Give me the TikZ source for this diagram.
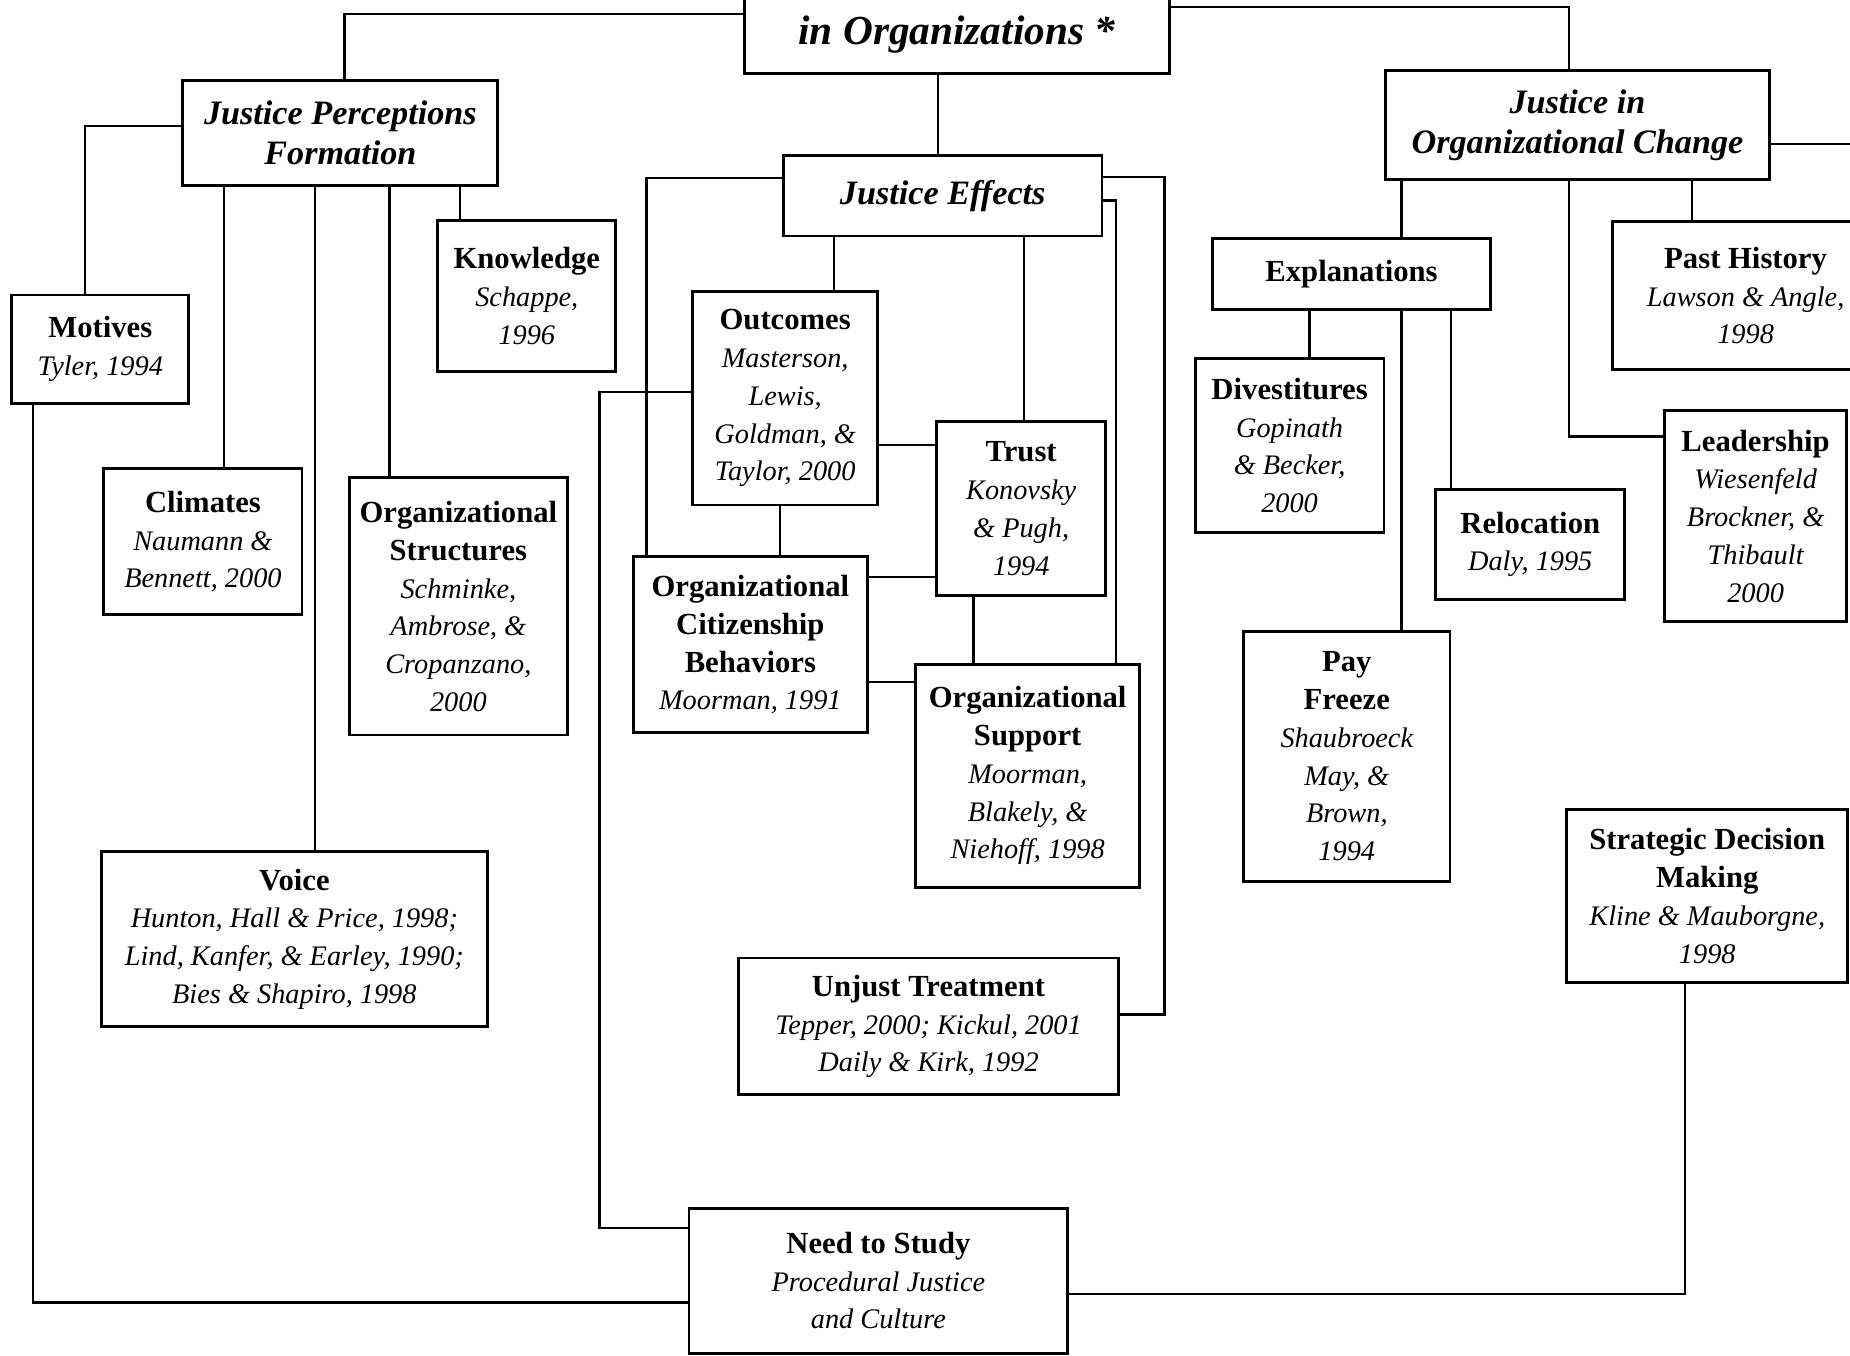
\documentclass[tikz,border=0pt]{standalone}
\usepackage{fontspec}
\setmainfont{Liberation Serif}
% bold upright label line inside a box
\newcommand\boxttl[1]{{\fontsize{13}{16}\selectfont\bfseries\upshape #1}}
\begin{document}
\begin{tikzpicture}[x=0.5pt,y=-0.5pt,
  nbox/.style n args={4}{draw, line width=1.2pt, inner sep=0pt, align=center,
    minimum width={(#3-#1)*0.5pt}, minimum height={(#4-#2)*0.5pt},
    at={({(#1+#3)/2},{(#2+#4)/2})},
    font=\fontsize{12}{16}\selectfont\itshape},
  head/.style={font=\fontsize{14.5}{17}\selectfont\bfseries\itshape},
  link/.style={line width=1pt, line cap=rect}]
\useasboundingbox (0,0) rectangle (1568,1149);
\clip (0,0) rectangle (1568,1149);
\fill[white] (0,0) rectangle (1568,1149);

% ---- top-level theme
\node[nbox={631}{-4}{991}{62}, font=\fontsize{17.5}{20}\selectfont\bfseries\itshape] (title) {in Organizations *};

% ---- justice perceptions formation branch
\node[nbox={155}{68}{422}{157}, head] (jpf) {Justice Perceptions\\Formation};
\node[nbox={371}{187}{522}{315}] (knowledge) {\boxttl{Knowledge}\\Schappe,\\1996};
\node[nbox={10}{250}{160}{342}] (motives) {\boxttl{Motives}\\Tyler, 1994};
\node[nbox={88}{397}{256}{521}] (climates) {\boxttl{Climates}\\Naumann \&\\Bennett, 2000};
\node[nbox={296}{405}{481}{623}] (ostruct) {\boxttl{Organizational}\\\boxttl{Structures}\\Schminke,\\Ambrose, \&\\Cropanzano,\\2000};
\node[nbox={86}{722}{413}{870}] (voice) {\boxttl{Voice}\\Hunton, Hall \& Price, 1998;\\Lind, Kanfer, \& Earley, 1990;\\Bies \& Shapiro, 1998};

% ---- justice effects branch
\node[nbox={664}{132}{934}{200}, head] (je) {Justice Effects};
\node[nbox={587}{247}{744}{428}] (outcomes) {\boxttl{Outcomes}\\Masterson,\\Lewis,\\Goldman, \&\\Taylor, 2000};
\node[nbox={794}{357}{937}{505}] (trust) {\boxttl{Trust}\\Konovsky\\\& Pugh,\\1994};
\node[nbox={537}{472}{735}{621}] (ocb) {\boxttl{Organizational}\\\boxttl{Citizenship}\\\boxttl{Behaviors}\\Moorman, 1991};
\node[nbox={776}{563}{966}{752}] (support) {\boxttl{Organizational}\\\boxttl{Support}\\Moorman,\\Blakely, \&\\Niehoff, 1998};
\node[nbox={626}{812}{948}{928}] (unjust) {\boxttl{Unjust Treatment}\\Tepper, 2000; Kickul, 2001\\Daily \& Kirk, 1992};
\node[nbox={584}{1024}{905}{1147}] (nts) {\boxttl{Need to Study}\\Procedural Justice\\and Culture};

% ---- justice in organizational change branch
\node[nbox={1174}{60}{1500}{152}, head] (joc) {Justice in\\Organizational Change};
\node[nbox={1028}{202}{1263}{262}] (explan) {\boxttl{Explanations}};
\node[nbox={1013}{304}{1173}{451}] (divest) {\boxttl{Divestitures}\\Gopinath\\\& Becker,\\2000};
\node[nbox={1217}{415}{1377}{508}] (reloc) {\boxttl{Relocation}\\Daly, 1995};
\node[nbox={1054}{535}{1229}{747}] (pay) {\boxttl{Pay}\\\boxttl{Freeze}\\Shaubroeck\\May, \&\\Brown,\\1994};
\node[nbox={1367}{188}{1592}{313}] (past) {\boxttl{Past History}\\Lawson \& Angle,\\1998};
\node[nbox={1411}{348}{1565}{527}] (leader) {\boxttl{Leadership}\\Wiesenfeld\\Brockner, \&\\Thibault\\2000};
\node[nbox={1328}{686}{1566}{833}] (sdm) {\boxttl{Strategic Decision}\\\boxttl{Making}\\Kline \& Mauborgne,\\1998};
\coordinate (rightend) at (1580,122);

% ---- connectors from the theme
\draw[link] (title.west |- 0,12) -| (jpf.north -| 292,0);
\draw[link] (title.east |- 0,6) -| (joc.north -| 1330,0);
\draw[link] (title.south -| 795,0) -- (je.north -| 795,0);

% ---- perceptions formation connectors
\draw[link] (jpf.west |- 0,107) -| (motives.north -| 72,0);
\draw[link] (jpf.south -| 190,0) -- (climates.north -| 190,0);
\draw[link] (jpf.south -| 267,0) -- (voice.north -| 267,0);
\draw[link] (jpf.south -| 330,0) -- (ostruct.north -| 330,0);
\draw[link] (jpf.south -| 390,0) -- (knowledge.north -| 390,0);
\draw[link] (motives.south -| 28,0) |- (nts.west |- 0,1104);

% ---- effects connectors
\draw[link] (je.west |- 0,151) -| (ocb.north -| 548,0);
\draw[link] (je.south -| 707,0) -- (outcomes.north -| 707,0);
\draw[link] (je.south -| 868,0) -- (trust.north -| 868,0);
\draw[link] (je.east |- 0,170) -| (support.north -| 946,0);
\draw[link] (je.east |- 0,150) -| (987,860) -- (unjust.east |- 0,860);
\draw[link] (outcomes.east |- 0,377) -- (trust.west |- 0,377);
\draw[link] (outcomes.south -| 661,0) -- (ocb.north -| 661,0);
\draw[link] (outcomes.west |- 0,332) -| (508,1041) -- (nts.west |- 0,1041);
\draw[link] (trust.west |- 0,489) -- (ocb.east |- 0,489);
\draw[link] (trust.south -| 825,0) -- (support.north -| 825,0);
\draw[link] (ocb.east |- 0,578) -- (support.west |- 0,578);

% ---- organizational change connectors
\draw[link] (joc.south -| 1188,0) -- (explan.north -| 1188,0);
\draw[link] (joc.south -| 1434,0) -- (past.north -| 1434,0);
\draw[link] (joc.south -| 1330,0) |- (leader.west |- 0,370);
\draw[link] (joc.east |- 0,122) -- (rightend);
\draw[link] (explan.south -| 1110,0) -- (divest.north -| 1110,0);
\draw[link] (explan.south -| 1188,0) -- (pay.north -| 1188,0);
\draw[link] (explan.south -| 1230,0) -- (reloc.north -| 1230,0);
\draw[link] (sdm.south -| 1428,0) |- (nts.east |- 0,1097);
\end{tikzpicture}
\end{document}
